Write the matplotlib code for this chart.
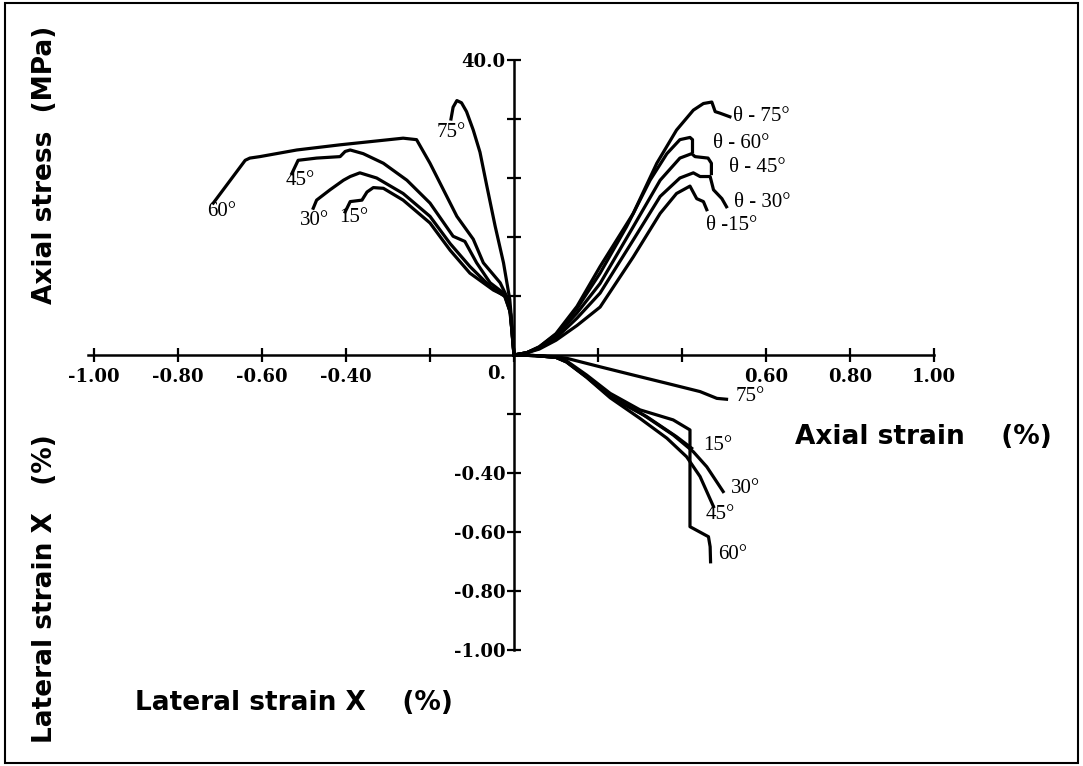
import matplotlib
matplotlib.use("Agg")
import matplotlib.pyplot as plt
from matplotlib.patches import Rectangle

# stress (MPa) vs lateral strain (%) -- left half
lat15_x = [-0.402, -0.390, -0.362, -0.350, -0.335, -0.311, -0.264, -0.200, -0.152, -0.105, -0.049, -0.017, -0.008, -0.004, 0]
lat15_s = [19.4, 20.8, 21.0, 22.1, 22.7, 22.6, 21.0, 17.9, 14.2, 11.1, 8.8, 7.9, 5.6, 2.6, 0]
lat30_x = [-0.478, -0.470, -0.438, -0.406, -0.390, -0.367, -0.327, -0.264, -0.200, -0.152, -0.105, -0.057, -0.021, -0.009, -0.004, 0]
lat30_s = [19.9, 21.0, 22.4, 23.7, 24.2, 24.7, 24.0, 21.9, 18.8, 15.1, 12.0, 9.3, 7.9, 5.8, 2.7, 0]
lat45_x = [-0.529, -0.514, -0.470, -0.414, -0.402, -0.390, -0.359, -0.311, -0.255, -0.200, -0.145, -0.117, -0.089, -0.057, -0.025, -0.010, -0.004, 0]
lat45_s = [24.6, 26.4, 26.7, 26.9, 27.6, 27.8, 27.3, 26.0, 23.7, 20.6, 16.1, 15.4, 12.5, 9.8, 8.4, 6.0, 2.8, 0]
lat60_x = [-0.716, -0.640, -0.629, -0.605, -0.517, -0.414, -0.264, -0.232, -0.200, -0.168, -0.136, -0.097, -0.073, -0.033, -0.017, -0.008, -0.004, 0]
lat60_s = [20.6, 26.4, 26.7, 26.9, 27.8, 28.5, 29.4, 29.2, 26.0, 22.4, 18.8, 15.7, 12.5, 9.8, 7.9, 5.5, 2.5, 0]
lat75_x = [-0.150, -0.145, -0.136, -0.125, -0.113, -0.097, -0.081, -0.065, -0.045, -0.025, -0.010, -0.004, 0]
lat75_s = [32.0, 33.6, 34.5, 34.2, 33.0, 30.5, 27.5, 23.0, 17.5, 12.5, 7.5, 3.5, 0]

# stress (MPa) vs axial strain (%) -- upper right
ax15_x = [0, 0.03, 0.06, 0.10, 0.15, 0.205, 0.284, 0.348, 0.387, 0.419, 0.435, 0.451, 0.459]
ax15_s = [0, 0.3, 0.8, 2.0, 4.0, 6.5, 13.3, 19.2, 21.9, 22.9, 21.2, 20.8, 19.7]
ax30_x = [0, 0.03, 0.06, 0.10, 0.15, 0.205, 0.284, 0.348, 0.395, 0.427, 0.443, 0.467, 0.475, 0.495, 0.506]
ax30_s = [0, 0.3, 0.9, 2.3, 5.0, 8.4, 15.6, 21.5, 24.0, 24.7, 24.2, 24.2, 22.4, 21.2, 20.1]
ax45_x = [0, 0.03, 0.06, 0.10, 0.15, 0.205, 0.284, 0.348, 0.395, 0.423, 0.431, 0.462, 0.470, 0.470]
ax45_s = [0, 0.3, 1.0, 2.6, 5.7, 9.7, 17.4, 23.7, 26.7, 27.3, 26.9, 26.7, 26.0, 24.6]
ax60_x = [0, 0.03, 0.06, 0.10, 0.15, 0.205, 0.268, 0.324, 0.364, 0.395, 0.419, 0.425, 0.425]
ax60_s = [0, 0.3, 1.1, 2.8, 6.3, 11.1, 17.4, 23.7, 27.3, 29.2, 29.5, 29.2, 27.6]
ax75_x = [0, 0.03, 0.06, 0.10, 0.15, 0.205, 0.284, 0.340, 0.387, 0.427, 0.451, 0.471, 0.479, 0.490, 0.514]
ax75_s = [0, 0.3, 1.1, 2.9, 6.6, 12.0, 19.2, 26.0, 30.5, 33.2, 34.1, 34.3, 33.0, 32.8, 32.3]

# lateral strain (%) vs axial strain (%) -- lower right
lx15_x = [0, 0.05, 0.10, 0.125, 0.173, 0.229, 0.316, 0.387, 0.423]
lx15_l = [0, -0.002, -0.008, -0.023, -0.074, -0.141, -0.209, -0.277, -0.316]
lx30_x = [0, 0.05, 0.10, 0.125, 0.173, 0.229, 0.308, 0.379, 0.427, 0.459, 0.498]
lx30_l = [0, -0.002, -0.008, -0.023, -0.074, -0.141, -0.203, -0.271, -0.328, -0.379, -0.463]
lx45_x = [0, 0.05, 0.10, 0.125, 0.173, 0.229, 0.300, 0.364, 0.411, 0.443, 0.475]
lx45_l = [0, -0.002, -0.008, -0.024, -0.076, -0.145, -0.215, -0.282, -0.345, -0.412, -0.514]
lx60_x = [0, 0.05, 0.10, 0.125, 0.173, 0.229, 0.300, 0.379, 0.419, 0.419, 0.463, 0.467, 0.468]
lx60_l = [0, -0.002, -0.008, -0.020, -0.068, -0.130, -0.186, -0.220, -0.254, -0.582, -0.616, -0.650, -0.701]
lx75_x = [0, 0.05, 0.10, 0.125, 0.205, 0.284, 0.364, 0.443, 0.483, 0.506]
lx75_l = [0, -0.002, -0.006, -0.011, -0.040, -0.068, -0.096, -0.124, -0.147, -0.150]

x_ticks = [-1.0, -0.8, -0.6, -0.4, -0.2, 0.0, 0.2, 0.4, 0.6, 0.8, 1.0]
x_labels = ["-1.00", "-0.80", "-0.60", "-0.40", "", "", "", "", "0.60", "0.80", "1.00"]
s_ticks = [8, 16, 24, 32, 40]
s_labels = ["", "", "", "", "40.0"]
l_ticks = [-1.0, -0.8, -0.6, -0.4, -0.2]
l_labels = ["-1.00", "-0.80", "-0.60", "-0.40", ""]

W, H = 1083, 766
ox, oy = 514, 355          # origin in pixels
px_x = 420.0               # pixels per 1 % strain (horizontal)
px_s = 59 / 8.0            # pixels per MPa
px_l = 295.0               # pixels per 1 % lateral strain (vertical)

fig = plt.figure(figsize=(W / 100, H / 100), dpi=100)
top = fig.add_axes([0, oy and 1 - oy / H, 1, oy / H])
bot = fig.add_axes([0, 0, 1, 1 - oy / H])
xlim = (-ox / px_x, (W - ox) / px_x)
top.set_xlim(xlim)
bot.set_xlim(xlim)
top.set_ylim(0, oy / px_s)
bot.set_ylim(-(H - oy) / px_l, 0)

for a in (top, bot):
    a.patch.set_alpha(0)
    a.spines["top"].set_visible(False)
    a.spines["right"].set_visible(False)
    a.spines["left"].set_position(("data", 0))
    a.spines["left"].set_linewidth(1.8)
    a.tick_params(direction="inout", length=10, width=1.6, colors="black")

top.spines["bottom"].set_position(("data", 0))
top.spines["bottom"].set_bounds(-1.015, 1.0)
top.spines["bottom"].set_linewidth(1.8)
top.spines["left"].set_bounds(0, 40)
bot.spines["bottom"].set_visible(False)
bot.spines["left"].set_bounds(-1.0, 0)

tick_font = dict(family="DejaVu Serif", weight="bold", size=13)
top.set_xticks(x_ticks)
top.set_xticklabels(x_labels, **tick_font)
top.tick_params(axis="x", pad=4)
top.set_yticks(s_ticks)
top.set_yticklabels(s_labels, **tick_font)
top.tick_params(axis="y", pad=1)
bot.set_xticks([])
bot.set_yticks(l_ticks)
bot.set_yticklabels(l_labels, **tick_font)
bot.tick_params(axis="y", pad=1)
top.annotate("0.", xy=(0, 0), xytext=(-6, -7), textcoords="offset points",
             ha="right", va="top", **tick_font)

lw = 2.3
for xs, ys in [(lat15_x, lat15_s), (lat30_x, lat30_s), (lat45_x, lat45_s),
               (lat60_x, lat60_s), (lat75_x, lat75_s),
               (ax15_x, ax15_s), (ax30_x, ax30_s), (ax45_x, ax45_s),
               (ax60_x, ax60_s), (ax75_x, ax75_s)]:
    top.plot(xs, ys, color="black", lw=lw, solid_joinstyle="round", clip_on=False)
for xs, ys in [(lx15_x, lx15_l), (lx30_x, lx30_l), (lx45_x, lx45_l),
               (lx60_x, lx60_l), (lx75_x, lx75_l)]:
    bot.plot(xs, ys, color="black", lw=lw, solid_joinstyle="round", clip_on=False)

lab = dict(family="Liberation Serif", size=15, ha="center", va="center")
top.text(-0.150, 30.2, "75°", **lab)
top.text(-0.695, 19.4, "60°", **lab)
top.text(-0.510, 23.6, "45°", **lab)
top.text(-0.474, 18.2, "30°", **lab)
top.text(-0.381, 18.6, "15°", **lab)
top.text(0.590, 32.3, "θ - 75°", **lab)
top.text(0.540, 28.7, "θ - 60°", **lab)
top.text(0.579, 25.4, "θ - 45°", **lab)
top.text(0.590, 20.7, "θ - 30°", **lab)
top.text(0.519, 17.5, "θ -15°", **lab)
bot.text(0.562, -0.142, "75°", **lab)
bot.text(0.486, -0.308, "15°", **lab)
bot.text(0.550, -0.454, "30°", **lab)
bot.text(0.490, -0.539, "45°", **lab)
bot.text(0.521, -0.675, "60°", **lab)

title = dict(family="DejaVu Sans", weight="bold", size=19)
fig.text(45 / W, 1 - 165 / H, "Axial stress  (MPa)", rotation=90, ha="center", va="center", **title)
fig.text(45 / W, 1 - 589 / H, "Lateral strain X   (%)", rotation=90, ha="center", va="center", **title)
fig.text(795 / W, 1 - 437 / H, "Axial strain    (%)", ha="left", va="center", **title)
fig.text(135 / W, 1 - 703 / H, "Lateral strain X    (%)", ha="left", va="center", **title)

fig.add_artist(Rectangle((5 / W, 3 / H), (1078 - 5) / W, (763 - 3) / H,
                         transform=fig.transFigure, fill=False, lw=1.5, color="black"))

fig.savefig("out.png", dpi=100)
